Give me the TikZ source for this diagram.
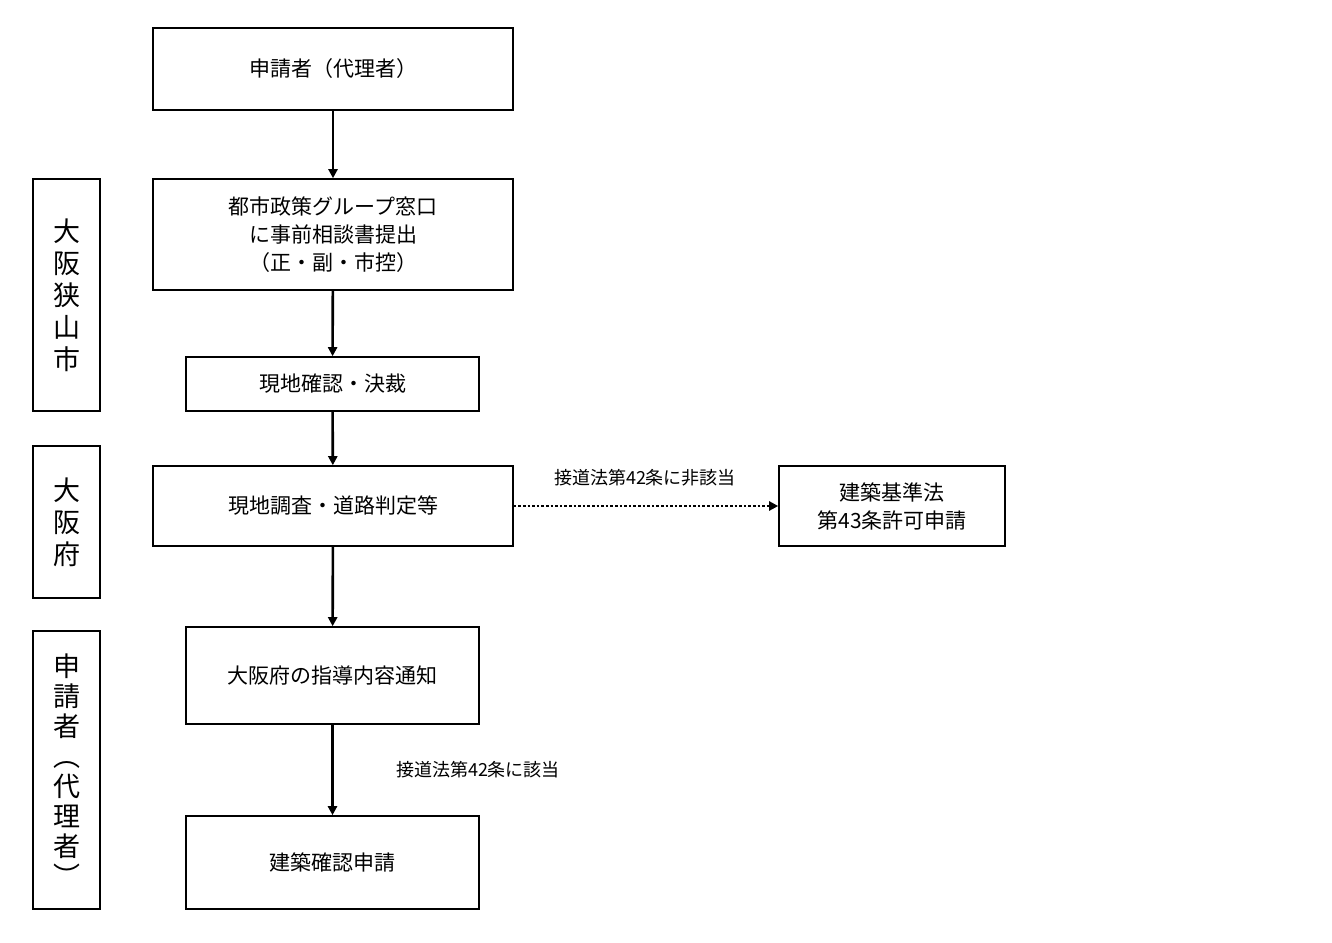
\documentclass[tikz,border=0pt]{standalone}
\usepackage{fontspec}
\setmainfont{Noto Sans CJK JP}
\usetikzlibrary{arrows.meta}
\begin{document}
\begin{tikzpicture}[x=1pt,y=-1pt,
  box/.style={draw,line width=1.6pt,align=center,font=\fontsize{21}{28}\selectfont,inner sep=0pt},
  side/.style={draw,line width=1.6pt,align=center,font=\fontsize{27}{32}\selectfont,inner sep=0pt},
  arr/.style={line width=2.6pt,-{Triangle[length=9pt,width=9pt]}},
  lab/.style={font=\fontsize{18}{22}\selectfont}]
\useasboundingbox (0,0) rectangle (1332,942);
\node[box,minimum width=360,minimum height=82] (A) at (333,69) {申請者（代理者）};
\node[box,minimum width=360,minimum height=111] (B) at (333,234.5) {都市政策グループ窓口\\に事前相談書提出\\（正・副・市控）};
\node[box,minimum width=293,minimum height=54] (C) at (332.5,384) {現地確認・決裁};
\node[box,minimum width=360,minimum height=80] (D) at (333,506) {現地調査・道路判定等};
\node[box,minimum width=226,minimum height=80] (E) at (892,506) {建築基準法\\第43条許可申請};
\node[box,minimum width=293,minimum height=97] (F) at (332.5,675.5) {大阪府の指導内容通知};
\node[box,minimum width=293,minimum height=93] (G) at (332.5,862.5) {建築確認申請};
\node[side,minimum width=67,minimum height=232] (S1) at (66.5,295) {大\\阪\\狭\\山\\市};
\node[side,minimum width=67,minimum height=152] (S2) at (66.5,522) {大\\阪\\府};
\node[side,minimum width=67,minimum height=278,font=\fontsize{27}{30}\selectfont] (S3) at (66.5,770) {申\\請\\者\\︵\\代\\理\\者\\︶};
\draw[arr] (A) -- (B);
\draw[arr] (B) -- (C);
\draw[arr] (C) -- (D);
\draw[arr] (D) -- (F);
\draw[arr] (F) -- (G);
\draw[line width=2.6pt,dotted,-{Triangle[length=9pt,width=9pt]}] (D) -- (E);
\node[lab] (L1) at (645,478) {接道法第42条に非該当};
\node[lab] (L2) at (478,770) {接道法第42条に該当};
\end{tikzpicture}
\end{document}
